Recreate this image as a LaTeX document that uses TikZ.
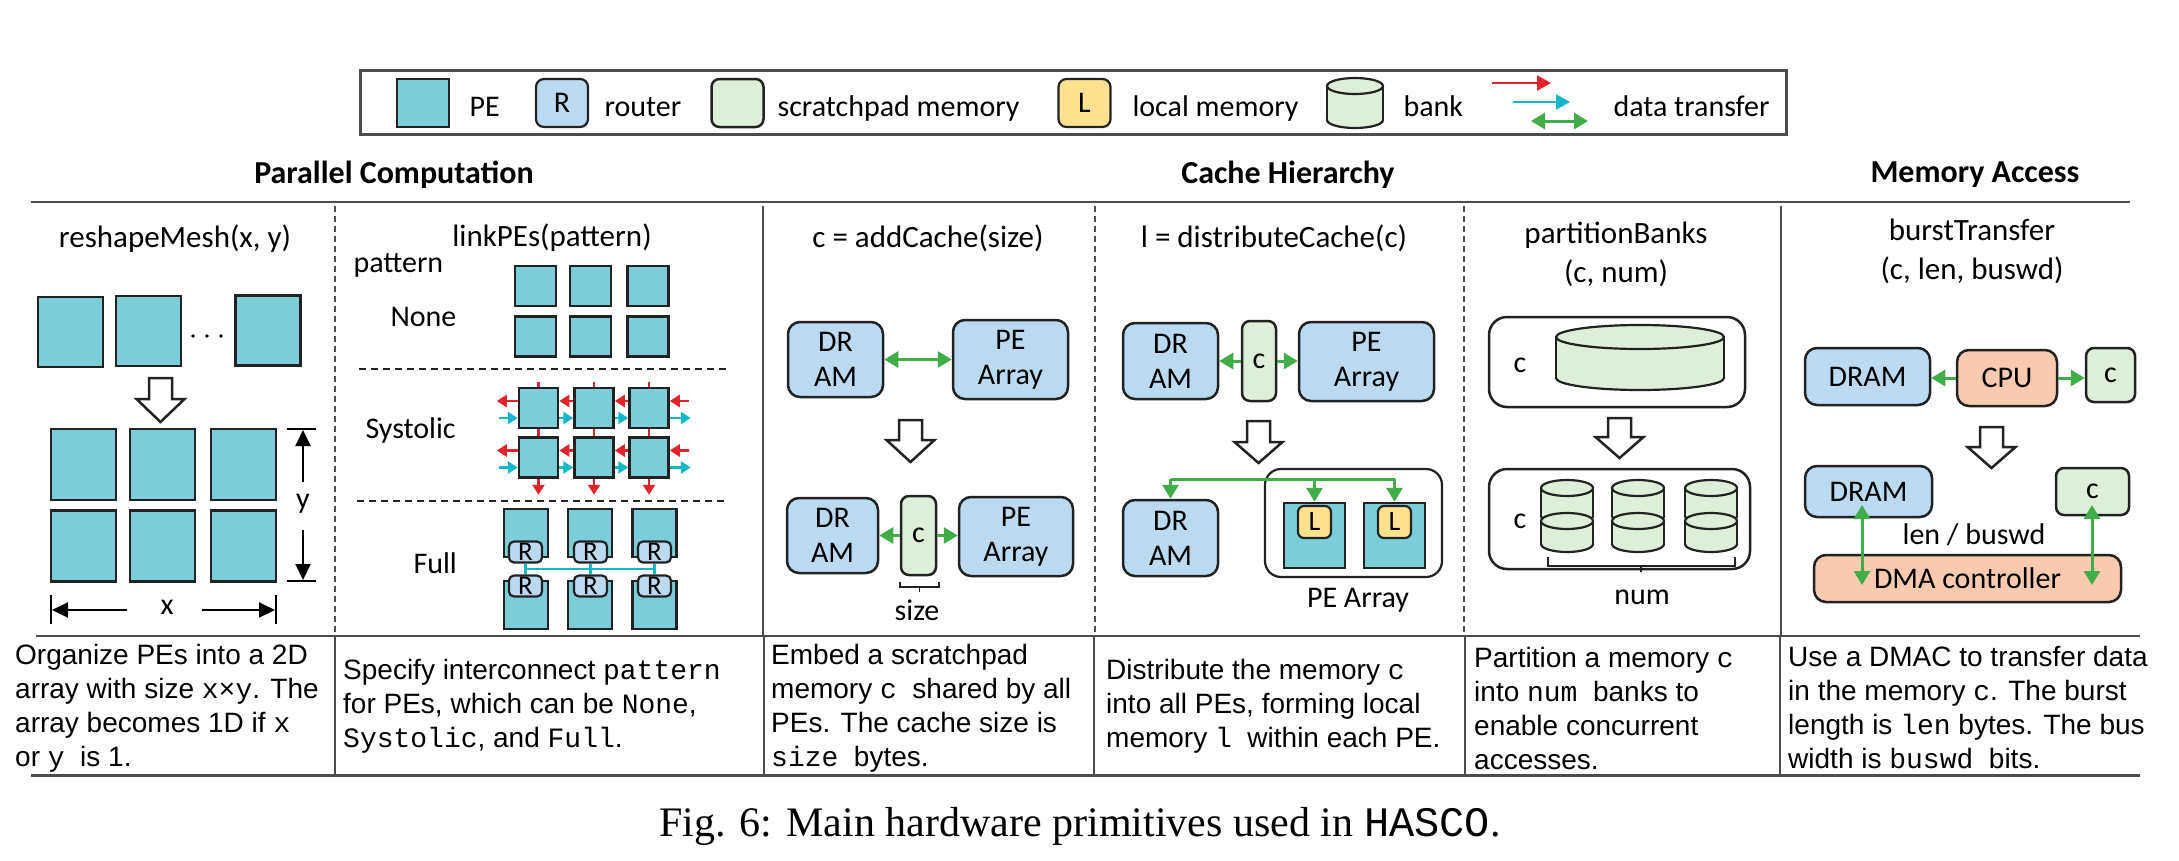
\documentclass[tikz,border=0pt]{standalone}
\usepackage{fontspec}
\setmainfont{Carlito}
\newfontfamily\descfont{Liberation Sans}
\newfontfamily\cmono{Liberation Mono}
\newfontfamily\capfont{Liberation Serif}
\usetikzlibrary{arrows.meta}
\definecolor{pecol}{HTML}{7BCDD8}
\definecolor{rcol}{HTML}{B9DAF0}
\definecolor{scol}{HTML}{DDEED9}
\definecolor{lcol}{HTML}{FFE08F}
\definecolor{ocol}{HTML}{F9CAAE}
\definecolor{gcol}{HTML}{41AD49}
\definecolor{redc}{HTML}{E0242B}
\definecolor{cyc}{HTML}{12B8C9}
\definecolor{edge}{HTML}{222222}
\definecolor{rulec}{HTML}{4D4D4D}
\newcommand{\mt}[1]{{\cmono #1}}
\newcommand{\hollow}[4]{%
 \draw[line width=2.5pt, draw=edge, fill=white, line join=miter] ({#1-11.5},#2) -- ({#1+11.5},#2) -- ({#1+11.5},#3) -- ({#1+24},#3) -- (#1,#4) -- ({#1-24},#3) -- ({#1-11.5},#3) -- cycle;}
\newcommand{\cyl}[5]{%
 \filldraw[line width=2.2pt, draw=edge, fill=scol] (#1,#3) ellipse [x radius=#4pt, y radius=#5pt];
 \fill[scol] ({#1-#4},#2) rectangle ({#1+#4},#3);
 \draw[line width=2.2pt, draw=edge] ({#1-#4},#2) -- ({#1-#4},#3) ({#1+#4},#2) -- ({#1+#4},#3);
 \filldraw[line width=2.2pt, draw=edge, fill=scol] (#1,#2) ellipse [x radius=#4pt, y radius=#5pt];}
\begin{document}
\begin{tikzpicture}[x=1pt,y=-1pt, font=\fontsize{30}{35}\selectfont,
 sz/.style 2 args={minimum width=#1pt, minimum height=#2pt},
 pe/.style={draw=edge, line width=2.5pt, fill=pecol, inner sep=0pt},
 box/.style={draw=edge, line width=2.5pt, rounded corners=12pt, inner sep=0pt, align=center},
 dram/.style={box, fill=rcol},
 spm/.style={box, fill=scol, rounded corners=8pt},
 orng/.style={box, fill=ocol},
 rbox/.style={draw=edge, line width=2.2pt, fill=rcol, rounded corners=5pt, inner sep=0pt, font=\fontsize{27}{30}\selectfont},
 lbox/.style={draw=edge, line width=2.2pt, fill=lcol, rounded corners=6pt, inner sep=0pt, font=\fontsize{28}{30}\selectfont},
 cont/.style={draw=edge, line width=2.2pt, rounded corners=16pt, inner sep=0pt},
 garrow/.style={draw=gcol, line width=3pt, -{Triangle[length=14pt,width=16pt]}},
 gdarrow/.style={draw=gcol, line width=3pt, {Triangle[length=14pt,width=16pt]}-{Triangle[length=14pt,width=16pt]}},
 gline/.style={draw=gcol, line width=3pt},
 rarr/.style={draw=redc, line width=2.5pt, -{Triangle[length=10pt,width=12pt]}},
 carr/.style={draw=cyc, line width=2.5pt, -{Triangle[length=10pt,width=12pt]}},
 rline/.style={draw=redc, line width=2.5pt},
 cline/.style={draw=cyc, line width=2.5pt},
 dimarr/.style={draw=black, line width=2pt, -{Triangle[length=16pt,width=15pt]}},
 dimline/.style={draw=black, line width=1.5pt},
 sepd/.style={draw=rulec, line width=1.5pt, dash pattern=on 6pt off 4pt},
 seps/.style={draw=rulec, line width=1.5pt},
 ttl/.style={anchor=base, font=\fontsize{31}{39}\selectfont, align=center},
 hd/.style={anchor=base, font=\fontsize{32}{38}\selectfont\bfseries},
 desc/.style={anchor=west, align=left, inner sep=0pt, font=\descfont\fontsize{28}{34}\selectfont}
]
\fill[white] (0,0) rectangle (2179,860);
\path[use as bounding box] (0,0) rectangle (2179,860);

% ---------- legend ----------
\node[draw=rulec, line width=3pt, sz={1426}{64}, inner sep=0pt] (legend) at (1073.5,102) {};
\node[pe, sz={52}{48}] (lpe) at (423,103) {};
\node[anchor=base west] (lpet) at (466,116) {PE};
\node[rbox, sz={52}{48}, font=\fontsize{30}{35}\selectfont, rounded corners=8pt] (lr) at (562,103) {R};
\node[anchor=base west] (lrt) at (601,116) {router};
\node[spm, sz={52}{48}] (ls) at (737.5,103) {};
\node[anchor=base west] (lst) at (774,116) {scratchpad memory};
\node[lbox, sz={52}{48}, font=\fontsize{30}{35}\selectfont, rounded corners=8pt] (ll) at (1084.5,103) {L};
\node[anchor=base west] (llt) at (1129,116) {local memory};
\cyl{1355}{86}{120}{28}{8}
\node[anchor=base west] (lbt) at (1400,116) {bank};
\coordinate (lra) at (1492,83); \coordinate (lrb) at (1551,83);
\coordinate (lca) at (1513,102); \coordinate (lcb) at (1570,102);
\coordinate (lga) at (1531,121); \coordinate (lgb) at (1588,121);
\draw[rarr, -{Triangle[length=14pt,width=15pt]}] (lra) -- (lrb);
\draw[carr, -{Triangle[length=14pt,width=15pt]}] (lca) -- (lcb);
\draw[gdarrow] (lga) -- (lgb);
\node[anchor=base west] (ldt) at (1610,116) {data transfer};

% ---------- headings and rules ----------
\node[hd] (h1) at (394,183) {Parallel Computation};
\node[hd] (h2) at (1288,183) {Cache Hierarchy};
\node[hd] (h3) at (1975,182) {Memory Access};
\draw[rulec, line width=2pt] (31,202) -- (2130,202);
\draw[rulec, line width=2pt] (36,636) -- (2140,636);
\draw[rulec, line width=3pt] (31,775) -- (2140,775);
\draw[sepd] (335,206) -- (335,636);
\draw[seps] (763,206) -- (763,636);
\draw[sepd] (1095,206) -- (1095,636);
\draw[sepd] (1464,206) -- (1464,636);
\draw[seps] (1781,206) -- (1781,636);
\foreach \xx in {335,764,1094,1465,1780} \draw[seps] (\xx,636) -- (\xx,775);

% ---------- column 1: reshapeMesh ----------
\node[ttl] (t1title) at (175,247) {reshapeMesh(x, y)};
\node[pe, sz={65}{70}] (t1) at (70.5,332) {};
\node[pe, sz={65}{70}] (t2) at (148.5,331) {};
\node[pe, sz={65}{70}] (t3) at (268,330.5) {};
\fill (193,336) circle (1.8pt) (207,336) circle (1.8pt) (221,336) circle (1.8pt);
\hollow{160.5}{378}{399}{422}
\node[pe, sz={65}{71}] (g11) at (83.5,464.5) {};
\node[pe, sz={65}{71}] (g12) at (162.5,464.5) {};
\node[pe, sz={65}{71}] (g13) at (243.5,464.5) {};
\node[pe, sz={65}{71}] (g21) at (83.5,546) {};
\node[pe, sz={65}{71}] (g22) at (162.5,546) {};
\node[pe, sz={65}{71}] (g23) at (243.5,546) {};
\draw[dimline] (287,429) -- (316,429);
\draw[dimline] (287,581) -- (316,581);
\node (ylab) at (303,504) {y};
\coordinate (ya1) at (303,482); \coordinate (ya2) at (303,430);
\coordinate (yb1) at (303,530); \coordinate (yb2) at (303,580);
\draw[dimarr] (ya1) -- (ya2);
\draw[dimarr] (yb1) -- (yb2);
\draw[dimline] (51,595) -- (51,624);
\draw[dimline] (276,595) -- (276,624);
\node (xlab) at (167,607) {x};
\coordinate (xa1) at (127,610); \coordinate (xa2) at (52,610);
\coordinate (xb1) at (202,610); \coordinate (xb2) at (275,610);
\draw[dimarr] (xa1) -- (xa2);
\draw[dimarr] (xb1) -- (xb2);

% ---------- column 2: linkPEs ----------
\node[ttl] (t2title) at (552,246) {linkPEs(pattern)};
\node[anchor=base west] (lpat) at (350,272) {pattern};
\node[anchor=base west] (lnone) at (387,326) {None};
\node[pe, sz={41}{40}] (n11) at (535.5,286) {};
\node[pe, sz={41}{40}] (n12) at (590.5,286) {};
\node[pe, sz={41}{40}] (n13) at (648,286) {};
\node[pe, sz={41}{40}] (n21) at (535.5,336.5) {};
\node[pe, sz={41}{40}] (n22) at (590.5,336.5) {};
\node[pe, sz={41}{40}] (n23) at (648,336.5) {};
\draw[draw=edge, line width=1.5pt, dash pattern=on 7pt off 5pt] (359,369) -- (730,369);
\node[anchor=base west] (lsys) at (362,438) {Systolic};
\foreach \r/\yy in {1/408,2/457.5}{
 \node[pe, sz={39}{40}] (s\r1) at (538.5,\yy) {};
 \node[pe, sz={39}{40}] (s\r2) at (594,\yy) {};
 \node[pe, sz={39}{40}] (s\r3) at (649,\yy) {};
 \draw[rarr] ([xshift=19pt,yshift=7pt]s\r3.east) -- ([yshift=7pt]s\r3.east);
 \draw[rarr] ([yshift=7pt]s\r3.west) -- ([yshift=7pt]s\r2.east);
 \draw[rarr] ([yshift=7pt]s\r2.west) -- ([yshift=7pt]s\r1.east);
 \draw[rarr] ([yshift=7pt]s\r1.west) -- ([xshift=-21pt,yshift=7pt]s\r1.west);
 \draw[carr] ([xshift=-19pt,yshift=-10pt]s\r1.west) -- ([yshift=-10pt]s\r1.west);
 \draw[carr] ([yshift=-10pt]s\r1.east) -- ([yshift=-10pt]s\r2.west);
 \draw[carr] ([yshift=-10pt]s\r2.east) -- ([yshift=-10pt]s\r3.west);
 \draw[carr] ([yshift=-10pt]s\r3.east) -- ([xshift=21pt,yshift=-10pt]s\r3.east);
}
\foreach \c in {1,2,3}{
 \draw[rline] ([yshift=5pt]s1\c.north) -- (s1\c.north);
 \draw[rline] (s1\c.south) -- (s2\c.north);
 \draw[rarr] (s2\c.south) -- ([yshift=-16pt]s2\c.south);
}
\draw[draw=edge, line width=1.5pt, dash pattern=on 7pt off 5pt] (357,501) -- (728,501);
\node[anchor=base west] (lfull) at (410,573) {Full};
\node[pe, sz={44}{48}] (f11) at (526,533) {};
\node[pe, sz={44}{48}] (f12) at (590,533) {};
\node[pe, sz={44}{48}] (f13) at (654.5,533) {};
\node[pe, sz={44}{48}] (f21) at (526,605) {};
\node[pe, sz={44}{48}] (f22) at (590,605) {};
\node[pe, sz={44}{48}] (f23) at (654.5,605) {};
\node[rbox, sz={33}{21}] (r11) at (525.5,552) {R};
\node[rbox, sz={33}{21}] (r12) at (590.5,552) {R};
\node[rbox, sz={33}{21}] (r13) at (654.5,552) {R};
\node[rbox, sz={33}{21}] (r21) at (525.5,586) {R};
\node[rbox, sz={33}{21}] (r22) at (590.5,586) {R};
\node[rbox, sz={33}{21}] (r23) at (654.5,586) {R};
\coordinate (fl) at (525.5,569); \coordinate (fr) at (654.5,569);
\draw[cline] (fl) -- (fr);
\draw[cline] (r11.south) -- (r21.north);
\draw[cline] (r12.south) -- (r22.north);
\draw[cline] (r13.south) -- (r23.north);

% ---------- column 3: addCache ----------
\node[ttl] (t3title) at (928,247) {c = addCache(size)};
\node[dram, sz={95}{75}] (d3a) at (835.5,359.5) {DR\\AM};
\node[dram, sz={115}{79}] (p3a) at (1010.5,359.5) {PE\\Array};
\draw[gdarrow] (d3a.east) -- (d3a.east -| p3a.west);
\hollow{910.5}{420}{440}{462}
\node[dram, sz={91}{75}] (d3b) at (832.5,535.5) {DR\\AM};
\node[spm, sz={35}{79}] (c3) at (918.5,535.5) {c};
\node[dram, sz={114}{79}] (p3b) at (1016,536.5) {PE\\Array};
\draw[garrow] (c3.west) -- (c3.west -| d3b.east);
\draw[garrow] (c3.east) -- (c3.east -| p3b.west);
\draw[draw=edge, line width=1.3pt] (900,582) -- (900,587) -- (939,587) -- (939,582) (919.5,587) -- (919.5,592);
\node[anchor=base] (lsize) at (917,620) {size};

% ---------- column 4: distributeCache ----------
\node[ttl] (t4title) at (1274,247) {l = distributeCache(c)};
\node[dram, sz={95}{76}] (d4a) at (1170.5,361) {DR\\AM};
\node[spm, sz={34}{80}] (c4) at (1259,361) {c};
\node[dram, sz={135}{79}] (p4a) at (1366.5,361.5) {PE\\Array};
\draw[garrow] (c4.west) -- (c4.west -| d4a.east);
\draw[garrow] (c4.east) -- (c4.east -| p4a.west);
\hollow{1258.5}{421}{442}{463}
\node[dram, sz={95}{76}] (d4b) at (1170.5,538) {DR\\AM};
\node[cont, sz={177}{108}] (pearr) at (1353.5,523) {};
\node[pe, sz={61}{65}] (q1) at (1314.5,535.5) {};
\node[pe, sz={61}{65}] (q2) at (1394.5,535.5) {};
\node[lbox, sz={33}{32}] (L1) at (1314.5,522) {L};
\node[lbox, sz={33}{32}] (L2) at (1394.5,522) {L};
\coordinate (gl) at (1170.5,479); \coordinate (gm) at (1314.5,479); \coordinate (gr) at (1394.5,479);
\draw[gline] (gl) -- (gr);
\draw[garrow] (gl) -- (d4b.north);
\draw[garrow] (gm) -- (q1.north);
\draw[garrow] (gr) -- (q2.north);
\node[anchor=base] (lpea) at (1358,607) {PE Array};

% ---------- column 5: partitionBanks ----------
\node[ttl] (t5title) at (1616,282) {partitionBanks\\(c, num)};
\node[cont, sz={256}{90}, rounded corners=18pt, line width=2.5pt] (cb1) at (1617,362) {};
\node (cl1) at (1520,365) {c};
\cyl{1640}{337}{378}{84}{12}
\hollow{1619.5}{418}{437}{458}
\node[cont, sz={261}{100}, rounded corners=18pt, line width=2.5pt] (cb2) at (1619.5,519) {};
\node (cl2) at (1520,521) {c};
\foreach \cx in {1567,1638,1711}{
 \cyl{\cx}{488}{516}{26}{8}
 \cyl{\cx}{521}{544}{26}{8}
}
\draw[draw=edge, line width=1.2pt] (1548,557) -- (1548,566) -- (1735,566) -- (1735,557) (1641,566) -- (1641,572);
\node[anchor=base] (lnum) at (1642,604) {num};

% ---------- column 6: burstTransfer ----------
\node[ttl] (t6title) at (1972,279) {burstTransfer\\(c, len, buswd)};
\node[dram, sz={125}{57}] (d6a) at (1867.5,376.5) {DRAM};
\node[orng, sz={100}{56}] (cpu) at (2007,378) {CPU};
\node[spm, sz={49}{54}] (c6a) at (2110.5,375) {c};
\draw[garrow] (cpu.west) -- (cpu.west -| d6a.east);
\draw[garrow] (cpu.east) -- (cpu.east -| c6a.west);
\hollow{1991.5}{427}{447}{468}
\node[dram, sz={127}{51}] (d6b) at (1868.5,491.5) {DRAM};
\node[spm, sz={73}{47}] (c6b) at (2092.5,491.5) {c};
\node[anchor=base] (llen) at (1974,544) {len / buswd};
\node[orng, sz={307}{47}] (dma) at (1967.5,578.5) {DMA controller};
\coordinate (va1) at (1862,505); \coordinate (vb1) at (1862,585);
\coordinate (va2) at (2092,505); \coordinate (vb2) at (2092,585);
\draw[gdarrow] (va1) -- (vb1);
\draw[gdarrow] (va2) -- (vb2);

% ---------- descriptions ----------
\node[desc] (e1) at (15,708) {Organize PEs into a 2D\\array with size \mt{x×y}. The\\array becomes 1D if \mt{x}\\or \mt{y}~ is 1.};
\node[desc] (e2) at (343,706) {Specify interconnect \mt{pattern}\\for PEs, which can be \mt{None},\\\mt{Systolic}, and \mt{Full}.};
\node[desc] (e3) at (771,708) {Embed a scratchpad\\memory \mt{c}~ shared by all\\PEs. The cache size is\\\mt{size}~ bytes.};
\node[desc] (e4) at (1106,706) {Distribute the memory \mt{c}\\into all PEs, forming local\\memory \mt{l}~ within each PE.};
\node[desc] (e5) at (1474,708) {Partition a memory \mt{c}\\into \mt{num}~ banks to\\enable concurrent\\accesses.};
\node[desc] (e6) at (1788,708) {Use a DMAC to transfer data\\in the memory \mt{c}. The burst\\length is \mt{len} bytes. The bus\\width is \mt{buswd}~ bits.};

% ---------- caption ----------
\node[anchor=base, font=\capfont\fontsize{42}{50}\selectfont] (cap) at (1080,836) {Fig. 6: Main hardware primitives used in \mt{HASCO}.};
\end{tikzpicture}
\end{document}
